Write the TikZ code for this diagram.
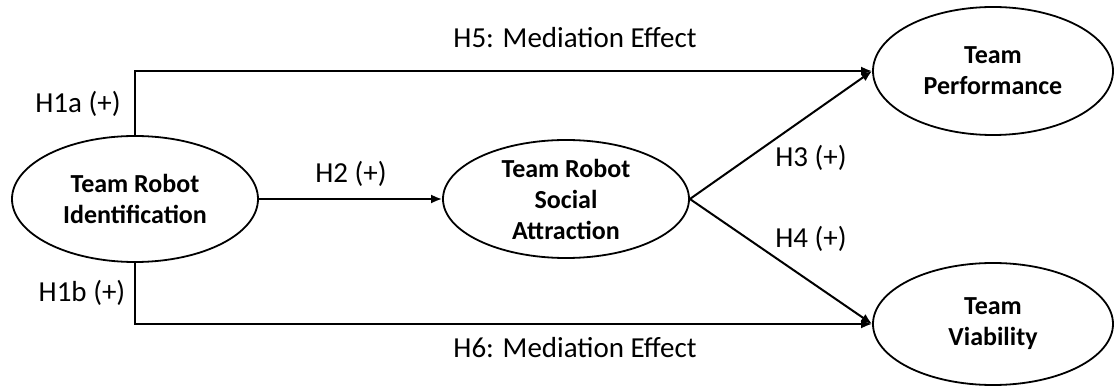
\documentclass[tikz,border=0pt]{standalone}
\usepackage{fontspec}
\setmainfont{Carlito}
\usetikzlibrary{shapes.geometric,arrows.meta}
\begin{document}
\begin{tikzpicture}[x=1pt,y=-1pt,
  construct/.style={ellipse,draw,line width=1.8pt,inner sep=0pt,align=center,
    font=\fontsize{26}{31}\selectfont\bfseries},
  link/.style={line width=2pt,-{Latex[length=11pt,width=9pt]}},
  hyp/.style={anchor=base,font=\fontsize{29}{33}\selectfont,inner sep=0pt}]
\useasboundingbox (0,0) rectangle (1114,387);
\node[construct,minimum width=246pt,minimum height=126pt] (A) at (135,199) {Team Robot\\Identification};
\node[construct,minimum width=246pt,minimum height=118pt] (B) at (566,199) {Team Robot\\Social\\Attraction};
\node[construct,minimum width=240pt,minimum height=128pt] (C) at (993,71) {Team\\Performance};
\node[construct,minimum width=240pt,minimum height=122pt] (D) at (993,324) {Team\\Viability};
\draw[link] (A.north) |- (C.west);
\draw[link] (A.south) |- (D.west);
\draw[link] (A.east) -- (B.west);
\draw[link] (B.east) -- (C.west);
\draw[link] (B.east) -- (D.west);
\node[hyp] (h1a) at (78,113) {H1a (+)};
\node[hyp] (h1b) at (82,302) {H1b (+)};
\node[hyp] (h2) at (351,183) {H2 (+)};
\node[hyp] (h3) at (811,167) {H3 (+)};
\node[hyp] (h4) at (811,248) {H4 (+)};
\node[hyp] (h5) at (575,48) {H5: Mediation Effect};
\node[hyp] (h6) at (575,357) {H6: Mediation Effect};
\end{tikzpicture}
\end{document}
